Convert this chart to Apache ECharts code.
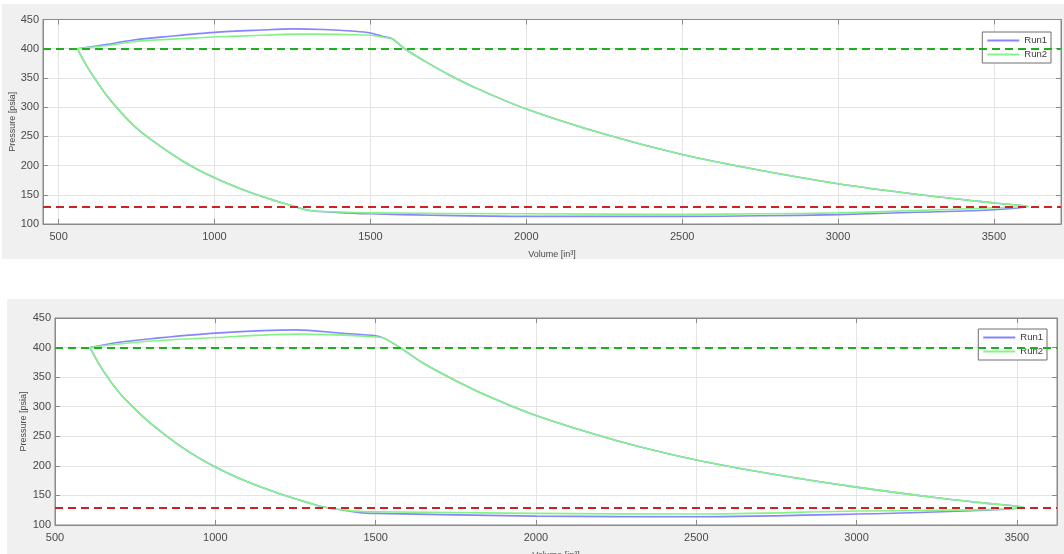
<!DOCTYPE html>
<html>
<head>
<meta charset="utf-8">
<script src="https://cdn.jsdelivr.net/npm/echarts@6/dist/echarts.min.js"></script>
<style>
  html, body { margin: 0; padding: 0; background: #ffffff; width: 1064px; height: 554px; overflow: hidden; }
  .panel { position: absolute; background: #f0f0f0; }
  #top { left: 2px; top: 4px; width: 1062px; height: 255px; }
  #bottom { left: 7px; top: 299px; width: 1057px; height: 255px; }
</style>
</head>
<body>
<div id="top" class="panel"></div>
<div id="bottom" class="panel"></div>
<script>
// Pressure-volume loops, [volume in^3, pressure psia], traced around each cycle:
// upper plateau, expansion, lower plateau, compression back to the start.
const topRun1 = [
  [560,400],[650,407],[740,415],[850,421],[1000,428],[1150,432],[1250,434],[1350,433],[1450,430],[1500,427],[1540,421],[1570,417],
  [1610,400],[1680,377],[1750,356],[1850,330],[2000,297],[2250,254],[2500,219],[2750,192],[3000,169],[3250,151],[3500,136],[3610,130],
  [3500,124.5],[3250,120],[3000,116],[2750,114],[2500,113],[2000,113],[1700,115],[1500,117.5],[1400,119.5],[1305,123],
  [1250,131],[1200,139],[1100,157],[1000,179],[900,207],[800,243],[750,264],[700,291],[650,323],[600,362],[580,380],[560,400]
];
const topRun2 = [
  [560,400],[650,405],[740,412],[850,416],[1000,420],[1150,423],[1250,425],[1400,424.5],[1500,423],[1550,419],[1570,417],
  [1610,400],[1680,377],[1750,356],[1850,330],[2000,297],[2250,254],[2500,219],[2750,192],[3000,169],[3250,151],[3500,136],[3610,130],
  [3500,127.8],[3250,123],[3000,119],[2750,117.5],[2500,116.7],[2000,117.5],[1500,119],[1400,120.5],[1305,123],
  [1250,131],[1200,139],[1100,157],[1000,179],[900,207],[800,243],[750,264],[700,291],[650,323],[600,362],[580,380],[560,400]
];
const bottomRun1 = [
  [609,400],[700,409],[800,415],[1000,424.4],[1250,430],[1400,424],[1500,420],[1526,416],
  [1576,400],[1650,373],[1750,344],[1850,318],[2000,285],[2250,243],[2500,210],[2750,185],[3000,164],[3250,146],[3400,137],[3521,130],
  [3400,125],[3000,118.5],[2500,114],[2000,115],[1500,119.7],[1450,121],[1400,125],[1333,131],
  [1300,136],[1200,153],[1100,173],[1000,198],[900,230],[800,271],[750,296],[700,324],[650,361],[609,400]
];
const bottomRun2 = [
  [609,400],[700,406],[800,411],[1000,417],[1250,422.7],[1400,421],[1500,418],[1526,416],
  [1576,400],[1650,373],[1750,344],[1850,318],[2000,285],[2250,243],[2500,210],[2750,185],[3000,164],[3250,146],[3400,137],[3521,130],
  [3400,126],[3000,123.6],[2500,118.5],[2000,119.7],[1500,122.4],[1450,123],[1400,125.5],[1333,131],
  [1300,136],[1200,153],[1100,173],[1000,198],[900,230],[800,271],[750,296],[700,324],[650,361],[609,400]
];

// Axis ticks and reference pressures
const volumeTicks = [500, 1000, 1500, 2000, 2500, 3000, 3500];
const upperLimit = 400;
const lowerLimit = 130;
const seriesNames = ['Run1', 'Run2'];

const FONT = '"Liberation Sans", Arial, sans-serif';
const AXIS_COLOR = '#8a8a8a';
const TEXT_COLOR = '#4a4a4a';
const GRID_COLOR = '#e4e4e4';
const RUN1_COLOR = '#8585ff';
const RUN2_COLOR = '#86f386';

function buildOption(run1, run2, layout) {
  const xMain = {
    type: 'value', min: layout.xMin, max: layout.xMax, position: 'bottom',
    name: 'Volume [in³]', nameLocation: 'middle', nameGap: layout.xNameGap, nameMoveOverlap: false,
    nameTextStyle: { fontFamily: FONT, fontSize: 9, color: TEXT_COLOR },
    axisLine: { show: true, onZero: false, lineStyle: { color: AXIS_COLOR, width: 1 } },
    axisTick: { show: true, inside: true, length: 5, customValues: volumeTicks, lineStyle: { color: AXIS_COLOR } },
    axisLabel: { customValues: volumeTicks, margin: 7, fontFamily: FONT, fontSize: 11, color: TEXT_COLOR,
                 formatter: v => String(v) },
    splitLine: { show: true, lineStyle: { color: GRID_COLOR, width: 1 } }
  };
  const xTop = {
    type: 'value', min: layout.xMin, max: layout.xMax, position: 'top',
    axisLine: { show: true, onZero: false, lineStyle: { color: AXIS_COLOR, width: 1 } },
    axisTick: { show: true, inside: true, length: 5, customValues: volumeTicks, lineStyle: { color: AXIS_COLOR } },
    axisLabel: { show: false }, splitLine: { show: false }
  };
  const yMain = {
    type: 'value', min: 100, max: 450, interval: 50, position: 'left',
    name: 'Pressure [psia]', nameLocation: 'middle', nameGap: layout.yNameGap, nameRotate: 90, nameMoveOverlap: false,
    nameTextStyle: { fontFamily: FONT, fontSize: 9, color: TEXT_COLOR },
    axisLine: { show: true, onZero: false, lineStyle: { color: AXIS_COLOR, width: 1 } },
    axisTick: { show: true, inside: true, length: 5, lineStyle: { color: AXIS_COLOR } },
    axisLabel: { margin: 4, fontFamily: FONT, fontSize: 11, color: TEXT_COLOR },
    splitLine: { show: true, lineStyle: { color: GRID_COLOR, width: 1 } }
  };
  const yRight = {
    type: 'value', min: 100, max: 450, interval: 50, position: 'right',
    axisLine: { show: true, onZero: false, lineStyle: { color: AXIS_COLOR, width: 1 } },
    axisTick: { show: true, inside: true, length: 5, lineStyle: { color: AXIS_COLOR } },
    axisLabel: { show: false }, splitLine: { show: false }
  };
  const loop = (name, data, color, z) => ({
    name, type: 'line', data, xAxisIndex: 0, yAxisIndex: 0,
    symbol: 'none', smooth: 0.3, z,
    lineStyle: { color, width: 1.6 }, itemStyle: { color }
  });
  return {
    animation: false,
    grid: {
      left: layout.left, right: layout.right, top: layout.top, bottom: layout.bottom,
      outerBoundsMode: 'none', containLabel: false,
      show: true, backgroundColor: '#ffffff', borderColor: AXIS_COLOR, borderWidth: 1
    },
    legend: {
      data: seriesNames, orient: 'vertical', right: layout.legendRight, top: layout.legendTop,
      icon: 'rect', itemWidth: 32, itemHeight: 2, itemGap: 1, padding: [2, 4, 2, 5],
      backgroundColor: '#ffffff', borderColor: '#6e6e6e', borderWidth: 1, borderRadius: 0,
      textStyle: { fontFamily: FONT, fontSize: 9.5, color: '#3a3a3a', lineHeight: 13 }
    },
    xAxis: [xMain, xTop],
    yAxis: [yMain, yRight],
    series: [
      loop(seriesNames[0], run1, RUN1_COLOR, 3),
      loop(seriesNames[1], run2, RUN2_COLOR, 4),
      {
        name: 'limits', type: 'line', data: [], xAxisIndex: 0, yAxisIndex: 0, z: 5,
        markLine: {
          silent: true, symbol: 'none', label: { show: false },
          data: [
            { yAxis: upperLimit, lineStyle: { color: '#1fae1f', width: 2, type: [8, 5] } },
            { yAxis: lowerLimit, lineStyle: { color: '#cc2222', width: 2, type: [8, 5] } }
          ]
        }
      }
    ]
  };
}

const topChart = echarts.init(document.getElementById('top'), null, { renderer: 'canvas' });
topChart.setOption(buildOption(topRun1, topRun2, {
  xMin: 450, xMax: 3715, left: 41, right: 3, top: 15.5, bottom: 35,
  xNameGap: 26, yNameGap: 26, legendRight: 13, legendTop: 28
}));

const bottomChart = echarts.init(document.getElementById('bottom'), null, { renderer: 'canvas' });
bottomChart.setOption(buildOption(bottomRun1, bottomRun2, {
  xMin: 500, xMax: 3625, left: 48, right: 7, top: 19, bottom: 29,
  xNameGap: 26, yNameGap: 27, legendRight: 17, legendTop: 30
}));
</script>
</body>
</html>
